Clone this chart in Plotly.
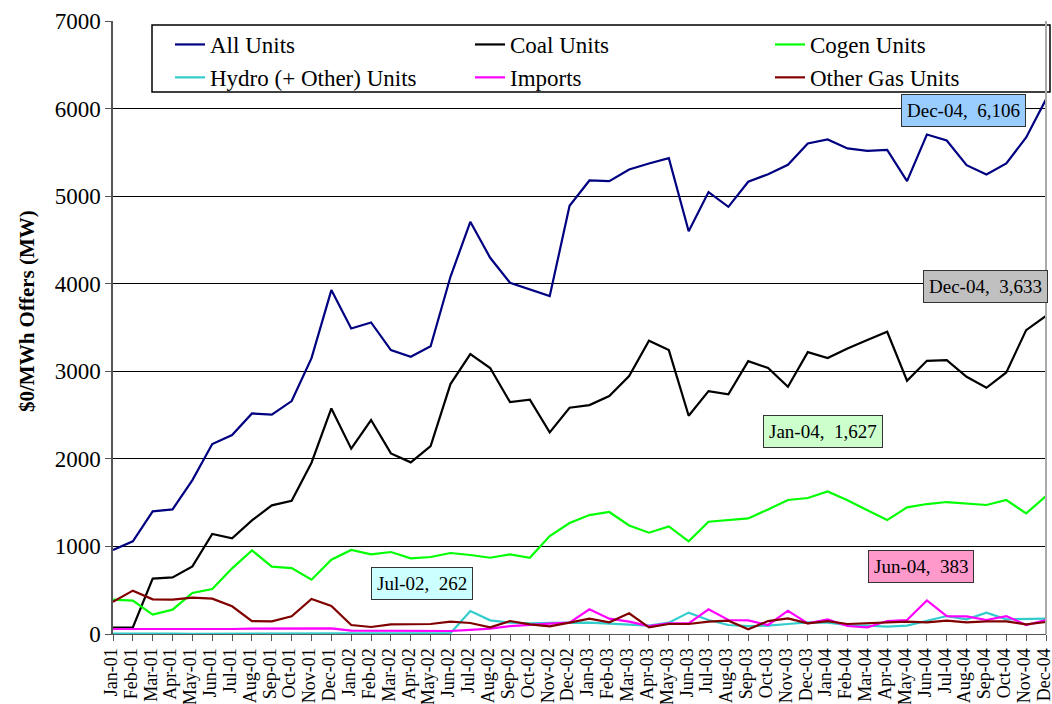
import plotly.graph_objects as go

months = [
    "Jan-01", "Feb-01", "Mar-01", "Apr-01", "May-01", "Jun-01", "Jul-01", "Aug-01", "Sep-01", "Oct-01", "Nov-01", "Dec-01",
    "Jan-02", "Feb-02", "Mar-02", "Apr-02", "May-02", "Jun-02", "Jul-02", "Aug-02", "Sep-02", "Oct-02", "Nov-02", "Dec-02",
    "Jan-03", "Feb-03", "Mar-03", "Apr-03", "May-03", "Jun-03", "Jul-03", "Aug-03", "Sep-03", "Oct-03", "Nov-03", "Dec-03",
    "Jan-04", "Feb-04", "Mar-04", "Apr-04", "May-04", "Jun-04", "Jul-04", "Aug-04", "Sep-04", "Oct-04", "Nov-04", "Dec-04",
]

all_units = [
    959, 1058, 1400, 1423, 1758, 2169, 2272, 2519, 2504, 2660, 3150, 3927,
    3489, 3558, 3242, 3166, 3285, 4079, 4707, 4296, 4011, 3934, 3858, 4890,
    5179, 5171, 5305, 5373, 5434, 4600, 5046, 4878, 5164, 5251, 5358, 5601,
    5647, 5545, 5518, 5529, 5171, 5704, 5636, 5354, 5248, 5373, 5670, 6106,
]
coal_units = [
    72, 76, 632, 647, 772, 1142, 1092, 1298, 1469, 1522, 1956, 2576,
    2116, 2443, 2062, 1960, 2146, 2854, 3196, 3037, 2648, 2675, 2302, 2584,
    2614, 2717, 2945, 3349, 3242, 2492, 2774, 2736, 3116, 3037, 2823, 3219,
    3151, 3261, 3356, 3451, 2892, 3120, 3128, 2938, 2812, 2987, 3470, 3633,
]
cogen_units = [
    392, 381, 221, 278, 468, 514, 750, 955, 769, 753, 620, 849,
    959, 909, 936, 864, 879, 925, 902, 871, 909, 871, 1119, 1267,
    1358, 1393, 1240, 1157, 1229, 1058, 1282, 1301, 1320, 1423, 1530, 1553,
    1627, 1526, 1416, 1301, 1446, 1484, 1507, 1488, 1473, 1530, 1377, 1575,
]
hydro_units = [
    5, 5, 12, 5, 3, 3, 3, 3, 3, 3, 3, 3,
    3, 3, 3, 3, 3, 10, 262, 156, 129, 122, 126, 129,
    129, 118, 103, 95, 129, 244, 160, 103, 91, 95, 114, 133,
    129, 103, 95, 84, 95, 148, 205, 167, 244, 167, 175, 175,
]
imports = [
    57, 57, 57, 53, 49, 53, 57, 61, 61, 61, 61, 65,
    38, 38, 30, 34, 34, 34, 46, 61, 91, 107, 118, 129,
    282, 175, 141, 91, 122, 122, 282, 160, 156, 103, 266, 122,
    167, 91, 76, 148, 160, 383, 205, 202, 160, 205, 103, 160,
]
other_gas = [
    369, 495, 396, 392, 415, 403, 316, 148, 145, 202, 400, 320,
    103, 80, 110, 114, 114, 141, 126, 76, 148, 110, 88, 129,
    175, 133, 236, 76, 114, 114, 141, 152, 53, 148, 179, 122,
    148, 114, 122, 126, 141, 133, 152, 133, 145, 145, 110, 137,
]

# name, values, colour, legend column
series = [
    ("All Units", all_units, "#000080", "legend"),
    ("Coal Units", coal_units, "#000000", "legend2"),
    ("Cogen Units", cogen_units, "#00FF00", "legend3"),
    ("Hydro (+ Other) Units", hydro_units, "#33CCCC", "legend"),
    ("Imports", imports, "#FF00FF", "legend2"),
    ("Other Gas Units", other_gas, "#800000", "legend3"),
]

# point labels: (series values, month, box colour, x offset, y offset in px)
callouts = [
    (all_units, "Dec-04", "#99CCFF", -83, 11),
    (coal_units, "Dec-04", "#C0C0C0", -61, -29),
    (cogen_units, "Jan-04", "#CCFFCC", -5, -60),
    (hydro_units, "Jul-02", "#CCFFFF", -48, -28),
    (imports, "Jun-04", "#FF99CC", -6, -34),
]

FONT = "Liberation Serif, Times New Roman, serif"
PW, PL, PT, PH = 933, 113, 21, 613  # plot area in px


def px_x(p):
    return (p - PL) / PW


def px_y(p):
    return 1 - (p - PT) / PH


fig = go.Figure()
for name, vals, color, leg in series:
    fig.add_trace(go.Scatter(
        x=months, y=vals, name=name, mode="lines", legend=leg,
        line=dict(color=color, width=2.2),
    ))

for vals, month, bg, dx, dy in callouts:
    i = months.index(month)
    fig.add_annotation(
        x=month, y=vals[i], xref="x", yref="y",
        text=f"{month},  {vals[i]:,}",
        showarrow=True, arrowcolor="rgba(0,0,0,0)", ax=dx, ay=dy,
        bgcolor=bg, bordercolor="#333333", borderwidth=1, borderpad=5,
        font=dict(family=FONT, size=19, color="black"),
    )

# y axis title
fig.add_annotation(
    text="<b>$0/MWh Offers (MW)</b>", textangle=-90, showarrow=False,
    xref="paper", yref="paper", x=px_x(27), y=px_y(311), xanchor="center", yanchor="middle",
    font=dict(family=FONT, size=21, color="black"),
)

# legend frame
fig.add_shape(type="rect", xref="paper", yref="paper",
              x0=px_x(152), x1=px_x(1050), y0=px_y(92), y1=px_y(25),
              fillcolor="white", line=dict(color="black", width=1.5), layer="above")

# right-hand frame edge of the plot area
fig.add_shape(type="line", xref="paper", yref="paper", x0=1, x1=1, y0=0, y1=1,
              line=dict(color="#AAAAAA", width=2))

legend_style = dict(
    orientation="v", yanchor="top", xanchor="left", y=px_y(23),
    bgcolor="rgba(0,0,0,0)", borderwidth=0, tracegroupgap=0, itemwidth=30,
    font=dict(family=FONT, size=23, color="black"),
)

fig.update_layout(
    width=1052, height=704,
    margin=dict(l=PL, r=1052 - PL - PW, t=PT, b=704 - PT - PH),
    paper_bgcolor="white", plot_bgcolor="white",
    font=dict(family=FONT, color="black"),
    showlegend=True,
    legend=dict(x=px_x(170), **legend_style),
    legend2=dict(x=px_x(470), **legend_style),
    legend3=dict(x=px_x(770), **legend_style),
    xaxis=dict(
        type="category", range=[0, 47], automargin=False, dtick=1,
        tickangle=-90, tickfont=dict(family=FONT, size=18, color="black"),
        ticklabelshift=-2,
        ticks="outside", ticklen=6, tickcolor="#555",
        showgrid=False, showline=True, linecolor="#555", linewidth=1,
    ),
    yaxis=dict(
        range=[0, 7000], dtick=1000, tickformat="d", automargin=False,
        tickfont=dict(family=FONT, size=23, color="black"),
        ticks="outside", ticklen=6, tickcolor="#555",
        showgrid=True, gridcolor="#000000", gridwidth=1,
        showline=True, linecolor="#555", linewidth=1.5,
        zeroline=False,
    ),
)

fig.write_html("out.html", config={"displayModeBar": False},
               post_script="document.body.style.margin='0';")
